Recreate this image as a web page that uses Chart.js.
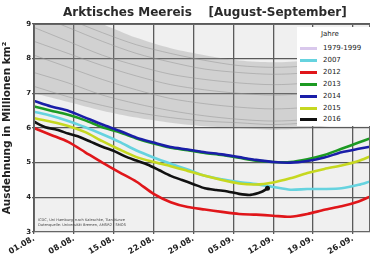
<!DOCTYPE html>
<html><head><meta charset="utf-8">
<script src="https://cdn.jsdelivr.net/npm/chart.js@4.4.0/dist/chart.umd.min.js"></script>
<style>
html,body{margin:0;padding:0;background:#fff;overflow:hidden}
#wrap{position:relative;width:374px;height:262px}
canvas{display:block}
#title{position:absolute;left:63px;top:5px;white-space:pre;font:bold 12px "DejaVu Sans",sans-serif;color:#2a2a2a}
#legend{position:absolute;left:297px;top:27px;width:77px;height:99px;background:#fff;font:7px "DejaVu Sans",sans-serif;color:#222}
#legend .h{position:absolute;left:24px;top:3px;font-size:7px}
#legend .it{position:absolute;left:3px;height:10px;width:74px}
#legend .sw{position:absolute;left:0;top:4px;width:17px;height:3px}
#legend .tx{position:absolute;left:23px;top:0;line-height:10px}
</style></head><body>
<div id="wrap"><canvas id="c" width="374" height="262"></canvas>
<div id="title">Arktisches Meereis    [August-September]</div>
<div id="legend"></div></div>
<script>
// x values: days since 1 August
const tickDays = [0,7,14,21,28,35,42,49,56];
const tickLabels = ["01.08.","08.08.","15.08.","22.08.","29.08.","05.09.","12.09.","19.09.","26.09."];
const yTicks = [3,4,5,6,7,8,9];

const days = [0,3,6,9,12,15,18,21,24,27,30,33,36,39,42,45,48,51,54,57,59];
const y2007 = [6.47,6.35,6.20,6.02,5.82,5.60,5.35,5.15,4.97,4.80,4.62,4.52,4.44,4.38,4.30,4.22,4.24,4.24,4.26,4.36,4.46];
const y2012 = [6.00,5.80,5.60,5.30,5.00,4.72,4.45,4.10,3.86,3.72,3.65,3.58,3.52,3.50,3.47,3.44,3.52,3.64,3.74,3.88,4.02];
const y2013 = [6.62,6.50,6.38,6.22,6.02,5.88,5.70,5.55,5.43,5.36,5.28,5.22,5.14,5.06,5.02,5.02,5.10,5.22,5.40,5.58,5.70];
const y2014 = [6.78,6.62,6.50,6.30,6.10,5.92,5.72,5.58,5.45,5.38,5.30,5.24,5.16,5.08,5.02,5.00,5.05,5.15,5.30,5.40,5.46];
const y2015 = [6.28,6.18,6.06,5.88,5.62,5.38,5.16,5.02,4.90,4.76,4.62,4.50,4.40,4.37,4.43,4.55,4.70,4.82,4.92,5.05,5.18];

const days2016 = [0,2,4,6,8,10,12,14,16,18,20,22,24,26,28,30,32,34,36,38,40,41];
const y2016 = [6.18,6.02,5.95,5.84,5.74,5.60,5.46,5.34,5.18,5.06,4.94,4.78,4.62,4.50,4.38,4.26,4.21,4.17,4.10,4.07,4.16,4.26];

// 1979-1999 range and individual grey lines
const bandDays = [0,6,12,18,24,30,36,42,48,54,59];
const bandUpper = [9.9,9.4,9.0,8.6,8.3,8.1,7.95,7.9,7.95,8.15,8.35];
const bandLower = [7.0,6.75,6.5,6.3,6.15,6.05,6.0,5.95,6.0,6.1,6.25];
const grey1 = [9.6,9.15,8.75,8.4,8.15,7.95,7.8,7.75,7.8,8.0,8.2];
const grey2 = [9.3,8.9,8.5,8.15,7.9,7.7,7.6,7.55,7.6,7.8,8.0];
const grey3 = [8.9,8.5,8.1,7.8,7.55,7.4,7.3,7.25,7.3,7.45,7.6];
const grey4 = [8.5,8.15,7.8,7.5,7.25,7.1,7.0,6.95,7.0,7.15,7.3];
const grey5 = [8.1,7.75,7.4,7.1,6.85,6.7,6.6,6.55,6.6,6.75,6.9];
const grey6 = [7.6,7.3,6.95,6.7,6.5,6.35,6.25,6.2,6.25,6.4,6.55];
const grey7 = [7.2,6.9,6.65,6.45,6.3,6.2,6.15,6.1,6.15,6.25,6.4];

const legendNames = ["1979-1999","2007","2012","2013","2014","2015","2016"];
const legendColors = ["#d9c8ec","#66d3df","#e0161a","#1c9a22","#1a1ea8","#c6d820","#111111"];

const pts = (xs, ys) => xs.map((x,i)=>({x:x, y:ys[i]}));

const datasets = [
  {label:"upper", data:pts(bandDays,bandUpper), borderWidth:0, pointRadius:0, fill:'+1', backgroundColor:'rgba(140,140,140,0.3)', order:30, tension:0.3},
  {label:"lower", data:pts(bandDays,bandLower), borderWidth:0, pointRadius:0, fill:false, order:31, tension:0.3},
];
[grey1,grey2,grey3,grey4,grey5,grey6,grey7].forEach(g=>{
  datasets.push({label:"grey", data:pts(bandDays,g), borderColor:'rgba(150,150,150,0.75)', borderWidth:0.7, pointRadius:0, fill:false, order:20, tension:0.3});
});
const series = [
  [days,y2007,legendColors[1],6],
  [days,y2012,legendColors[2],2],
  [days,y2013,legendColors[3],4],
  [days,y2014,legendColors[4],3],
  [days,y2015,legendColors[5],5],
  [days2016,y2016,legendColors[6],1],
];
series.forEach(s=>{
  const n = s[0].length;
  datasets.push({data:pts(s[0],s[1]), borderColor:s[2], backgroundColor:s[2], borderWidth:2.6, fill:false, order:s[3], tension:0.25,
    pointRadius:(s[3]===1)?(ctx=>ctx.dataIndex===n-1?2.5:0):0, pointBorderWidth:0});
});

const bgPlugin = {
  id:'bg',
  beforeDraw(chart){
    const {ctx, chartArea:a} = chart;
    ctx.save(); ctx.fillStyle='#f0f0f0'; ctx.fillRect(a.left,a.top,a.right-a.left,a.bottom-a.top); ctx.restore();
  },
  afterDraw(chart){
    const {ctx, chartArea:a} = chart;
    ctx.save();
    ctx.strokeStyle='#666'; ctx.lineWidth=1;
    ctx.strokeRect(a.left+0.5,a.top+0.5,a.right-a.left-1,a.bottom-a.top-1);
    ctx.fillStyle='#444'; ctx.font='3.6px "DejaVu Sans", sans-serif';
    ctx.fillText('ICDC, Uni Hamburg, nach Kaleschke, Tian-Kunze', a.left+4, a.bottom-11);
    ctx.fillText('Datenquelle: Universität Bremen, AMSR2 / SMOS', a.left+4, a.bottom-6);
    ctx.restore();
  }
};

new Chart(document.getElementById('c'), {
  type:'line',
  data:{datasets},
  plugins:[bgPlugin],
  options:{
    responsive:false, animation:false,
    layout:{padding:{top:24,right:3,left:0,bottom:0}},
    plugins:{legend:{display:false}, tooltip:{enabled:false}, title:{display:false}},
    scales:{
      x:{type:'linear', min:0, max:59,
        afterFit:s=>{s.height=30;},
        afterBuildTicks:s=>{s.ticks=tickDays.map(v=>({value:v}));},
        ticks:{autoSkip:false, minRotation:30, maxRotation:30, padding:0, color:'#222', font:{family:'DejaVu Sans', size:8, weight:'bold'},
          callback:v=>{const i=tickDays.indexOf(v); return i>=0?tickLabels[i]:'';}},
        grid:{color:'#5a5a5a', lineWidth:1.3, tickLength:2}, border:{display:false}},
      y:{min:3, max:9,
        afterFit:s=>{s.width=34;},
        afterBuildTicks:s=>{s.ticks=yTicks.map(v=>({value:v}));},
        ticks:{padding:1, color:'#222', font:{family:'DejaVu Sans', size:7, weight:'bold'}},
        grid:{color:'#5a5a5a', lineWidth:1.3, tickLength:2}, border:{display:false},
        title:{display:true, text:'Ausdehnung in Millionen km²', color:'#222', padding:{top:1,bottom:2}, font:{family:'DejaVu Sans', size:10.5, weight:'bold'}}}
    }
  }
});

// legend
const lg = document.getElementById('legend');
const h = document.createElement('div'); h.className='h'; h.textContent='Jahre'; lg.appendChild(h);
legendNames.forEach((n,i)=>{
  const it=document.createElement('div'); it.className='it'; it.style.top=(16+i*11.9)+'px';
  const sw=document.createElement('div'); sw.className='sw'; sw.style.background=legendColors[i];
  const tx=document.createElement('div'); tx.className='tx'; tx.textContent=n;
  it.appendChild(sw); it.appendChild(tx); lg.appendChild(it);
});
</script>
</body></html>
